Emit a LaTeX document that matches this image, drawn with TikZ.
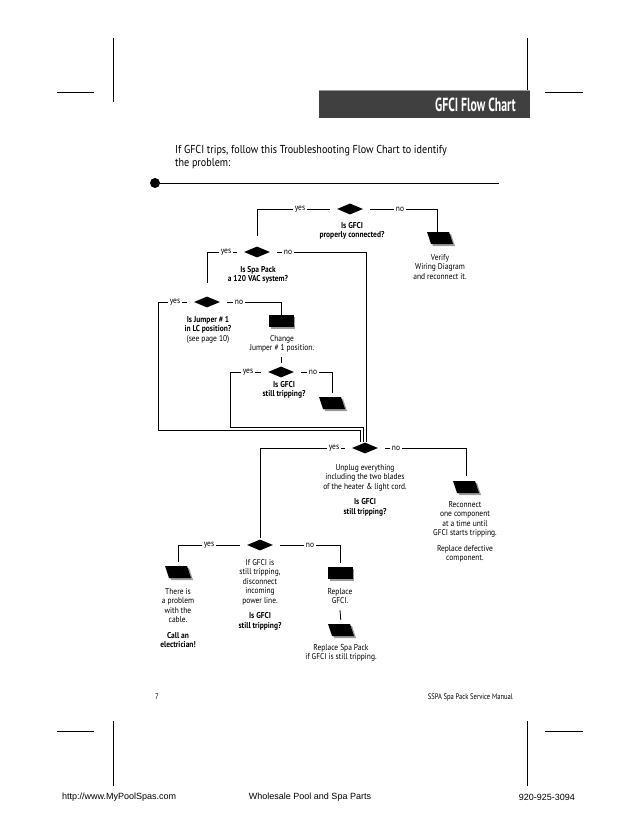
\documentclass[tikz,border=0pt]{standalone}
\usepackage{fontspec}
\usetikzlibrary{shapes.geometric}
\newfontfamily\flowfont{PT Sans}[FakeStretch=0.88]
\newfontfamily\footfont{PT Sans}[FakeStretch=0.82]
\newfontfamily\introfont{PT Sans}[FakeStretch=0.88]
\newfontfamily\titlefont{PT Sans Bold}[FakeStretch=0.62]
\newfontfamily\webfont{Liberation Sans}
\definecolor{titlebg}{HTML}{404040}
\definecolor{titleedge}{HTML}{9A9A9A}
\definecolor{shadowgray}{HTML}{9C9C9C}
\newcommand\flowcard[2]{%
  \node[cardbox] (#1) at (#2) {};
  \fill[shadowgray] ([shift={(-11,-4)}]#1.center) -- ([shift={(11,-4)}]#1.center)
     -- ([shift={(15,8)}]#1.center) -- ([shift={(-7,8)}]#1.center) -- cycle;
  \fill[black] ([shift={(-13,-6)}]#1.center) -- ([shift={(9,-6)}]#1.center)
     -- ([shift={(13,6)}]#1.center) -- ([shift={(-9,6)}]#1.center) -- cycle;}
\newcommand\flowrect[2]{%
  \node[cardbox] (#1) at (#2) {};
  \fill[shadowgray] ([shift={(-10.5,-4.5)}]#1.center) rectangle ([shift={(14,7.5)}]#1.center);
  \fill[black] ([shift={(-12.5,-6)}]#1.center) rectangle ([shift={(12.5,6)}]#1.center);}
\begin{document}
\begin{tikzpicture}[x=1pt,y=-1pt,
  wire/.style={line width=0.8pt},
  crop/.style={line width=0.8pt},
  dia/.style={diamond,fill=black,minimum width=26pt,minimum height=11pt,inner sep=0pt,aspect=2.4},
  cardbox/.style={rectangle,minimum width=26pt,minimum height=12pt,inner sep=0pt},
  yn/.style={fill=white,inner sep=1.6pt,font=\flowfont\fontsize{8.5}{9}\selectfont},
  txt/.style={align=center,inner sep=0pt,anchor=north,font=\flowfont\fontsize{8.5}{9.5}\selectfont},
  gap/.style={shorten <=7pt}
]
\useasboundingbox (0,0) rectangle (638,826);
\fill[white] (0,0) rectangle (638,826);

% crop marks
\draw[crop] (113,38) -- (113,102);
\draw[crop] (527,38) -- (527,102);
\draw[crop] (57,92) -- (94,92);
\draw[crop] (545,92) -- (583,92);
\draw[crop] (57,731) -- (94,731);
\draw[crop] (545,731) -- (583,731);
\draw[crop] (113,721) -- (113,786);
\draw[crop] (527,721) -- (527,786);

% title bar
\fill[titlebg] (319,90) rectangle (530,118);
\draw[titleedge,line width=0.8pt] (319,90) -- (530,90);
\node[anchor=east,inner sep=0pt,text=white,font=\titlefont\fontsize{19}{20}\selectfont] (title) at (516,105) {GFCI Flow Chart};

% intro
\node[anchor=north west,align=left,inner sep=0pt,font=\introfont\fontsize{11.5}{13}\selectfont] (intro) at (175,145)
  {If GFCI trips, follow this Troubleshooting Flow Chart to identify\\the problem:};
\fill (155,183) circle (5pt);
\draw[line width=0.9pt] (155,183) -- (499,183);

% shapes
\node[dia] (d1) at (350,209) {};
\node[dia] (d2) at (257,252) {};
\node[dia] (d3) at (207,302) {};
\flowrect{chg}{281,321}
\node[dia] (d5) at (281,372) {};
\flowcard{p2}{332,403}
\flowcard{p1}{440,238}
\node[dia] (d4) at (365,448) {};
\flowcard{p4}{466,487}
\node[dia] (d6) at (260,545) {};
\flowcard{p3}{178,572}
\flowrect{r2}{340,573}
\flowcard{p5}{341,630}

\coordinate (chgb) at (281,357);
\coordinate (r2b) at (340,610);
\coordinate (outer) at (158,430);
\coordinate (inner) at (230,427);
\coordinate (right) at (366.5,252);
\coordinate (m1) at (360,430);
\coordinate (m2) at (363,427);
\coordinate (m3) at (366.5,430);

% connectors
\draw[wire,gap,shorten >=10pt] (d1.west) -| (d2.north);
\draw[wire,gap] (d1.east) -| ([xshift=-3pt]p1.north);
\draw[wire,gap,shorten >=13pt] (d2.west) -| (d3.north);
\draw[wire,gap] (d2.east) -- (right) -- (m3) -- ++(0,12);
\draw[wire,gap] (d3.west) -| (outer) -- (m1) -- ++(0,12);
\draw[wire,gap] (d3.east) -| (chg.north);
\draw[wire,shorten >=3pt] (chgb) -- (d5.north);
\draw[wire,gap] (d5.west) -| (inner) -- (m2) -- ++(0,15);
\draw[wire,gap,shorten >=4pt] (d5.east) -| (p2.north);
\draw[wire,gap,shorten >=1pt] (d4.west) -| (d6.north);
\draw[wire,gap,shorten >=5pt] (d4.east) -| (p4.north);
\draw[wire,gap,shorten >=4pt] (d6.west) -| (p3.north);
\draw[wire,gap,shorten >=4pt] (d6.east) -| (r2.north);
\draw[wire,shorten >=4pt] (r2b) -- (p5.north);

% yes / no labels
\node[yn] (y1) at (300,209) {yes};
\node[yn] (n1) at (400,209) {no};
\node[yn] (y2) at (226,252) {yes};
\node[yn] (n2) at (288,252) {no};
\node[yn] (y3) at (175,302) {yes};
\node[yn] (n3) at (239,302) {no};
\node[yn] (y5) at (248,372) {yes};
\node[yn] (n5) at (313,372) {no};
\node[yn] (y4) at (334,448) {yes};
\node[yn] (n4) at (396,448) {no};
\node[yn] (y6) at (209,545) {yes};
\node[yn] (n6) at (310,545) {no};

% texts
\node[txt] (t1) at (352,222) {\bfseries Is GFCI\\\bfseries properly connected?};
\node[txt] (tv) at (440,254) {Verify\\Wiring Diagram\\and reconnect it.};
\node[txt] (t2) at (258,266) {\bfseries Is Spa Pack\\\bfseries a 120 VAC system?};
\node[txt] (t3) at (208,316) {\bfseries Is Jumper \# 1\\\bfseries in LC position?\\(see page 10)};
\node[txt] (tc) at (282,335) {Change\\Jumper \# 1 position.};
\node[txt] (t5) at (284,381) {\bfseries Is GFCI\\\bfseries still tripping?};
\node[txt] (t4) at (365,464) {Unplug everything\\including the two blades\\of the heater \& light cord.\\[6pt]\bfseries Is GFCI\\\bfseries still tripping?};
\node[txt] (tr) at (465,501) {Reconnect\\one component\\at a time until\\GFCI starts tripping.\\[6pt]Replace defective\\component.};
\node[txt] (t6) at (260,559) {If GFCI is\\still tripping,\\disconnect\\incoming\\power line.\\[6pt]\bfseries Is GFCI\\\bfseries still tripping?};
\node[txt] (tp3) at (178,588) {There is\\a problem\\with the\\cable.\\[6pt]\bfseries Call an\\\bfseries electrician!};
\node[txt] (tr2) at (340,588) {Replace\\GFCI.};
\node[txt] (tp5) at (341,644) {Replace Spa Pack\\if GFCI is still tripping.};

% footer
\node[anchor=west,inner sep=0pt,font=\footfont\fontsize{8}{9}\selectfont] (pg) at (155,697) {7};
\node[anchor=east,inner sep=0pt,font=\footfont\fontsize{8}{9}\selectfont] (man) at (513,697) {SSPA Spa Pack Service Manual};
\node[anchor=west,inner sep=0pt,font=\webfont\fontsize{9}{10}\selectfont] (web) at (62,797) {http://www.MyPoolSpas.com};
\node[inner sep=0pt,font=\webfont\fontsize{9}{10}\selectfont] (whole) at (310,797) {Wholesale Pool and Spa Parts};
\node[anchor=east,inner sep=0pt,font=\webfont\fontsize{9}{10}\selectfont] (tel) at (575,797) {920-925-3094};
\end{tikzpicture}
\end{document}
